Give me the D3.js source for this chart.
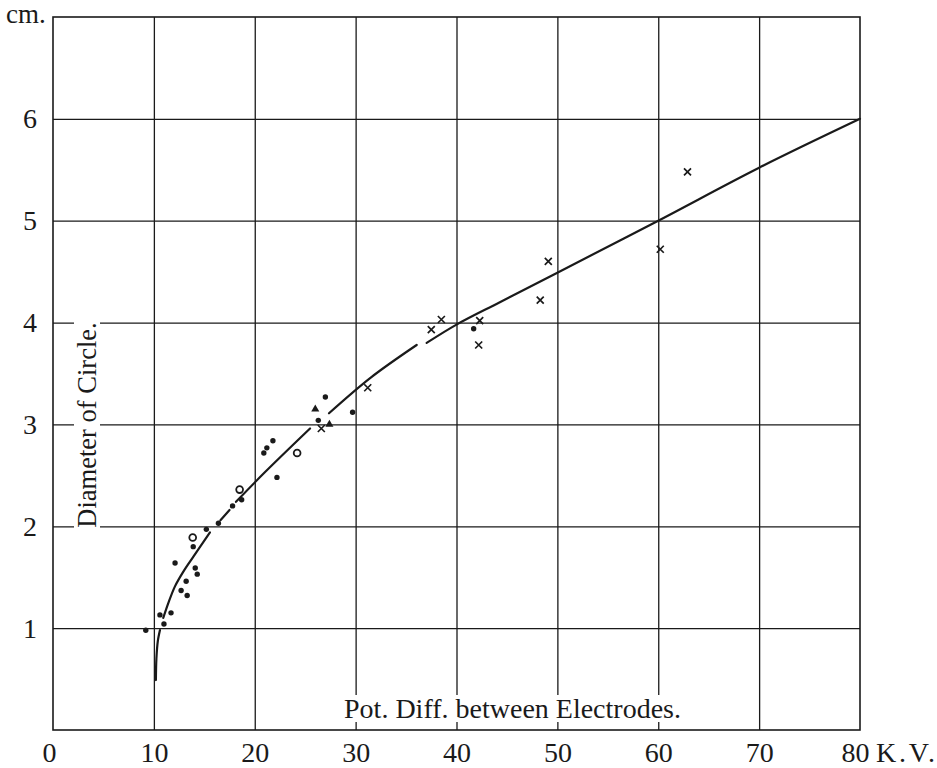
<!DOCTYPE html>
<html>
<head>
<meta charset="utf-8">
<script src="https://cdn.jsdelivr.net/npm/d3@7"></script>
<style>
  html, body { margin: 0; padding: 0; background: #fff; }
  svg { display: block; }
</style>
</head>
<body>
<svg id="chart" width="937" height="768"></svg>
<script>
// ---------- data ----------
const xTicks = [0, 10, 20, 30, 40, 50, 60, 70, 80];
const yTicks = [1, 2, 3, 4, 5, 6];
const xTitle = "Pot. Diff. between Electrodes.";
const yTitle = "Diameter of Circle.";
const yUnit = "cm.";
const xUnit = "K.V.";

// observations: [kV, diameter cm]
const dots = [
  [9.2, 0.98], [10.6, 1.13], [11.0, 1.04], [11.7, 1.15], [12.1, 1.64],
  [12.7, 1.37], [13.3, 1.32], [13.2, 1.46], [13.9, 1.80], [14.1, 1.59],
  [14.3, 1.53], [15.2, 1.97], [16.4, 2.03], [17.8, 2.20], [18.7, 2.26],
  [20.9, 2.72], [21.2, 2.77], [21.8, 2.84], [22.2, 2.48], [26.3, 3.04],
  [27.0, 3.27], [29.7, 3.12], [41.7, 3.94]
];
const rings = [[13.85, 1.89], [18.5, 2.36], [24.2, 2.72]];
const triangles = [[26.0, 3.15], [27.4, 3.00]];
const crosses = [
  [26.6, 2.96], [31.2, 3.36], [37.5, 3.93], [38.5, 4.03], [42.3, 4.02],
  [42.2, 3.78], [48.3, 4.22], [49.1, 4.60], [60.2, 4.72], [62.9, 5.48]
];

// hand-drawn mean curve (null = break in the pen stroke)
const curvePts = [
  [10.2, 0.49], [10.25, 0.70], [10.4, 0.88], [10.6, 0.98], null,
  [10.93, 1.10], [11.43, 1.245], [12.09, 1.41], [12.92, 1.555], [13.9, 1.70], [15.56, 1.94], null,
  [16.6, 2.06], [17.5, 2.16], null,
  [18.14, 2.24], [21, 2.53], [25.48, 2.96], null,
  [27.36, 3.11], [31.5, 3.46], [36.05, 3.78], null,
  [37.04, 3.80], [40, 3.98], [44.3, 4.20], [50, 4.49], [60, 5.00], [70, 5.52], [80, 6.00]
];

// ---------- drawing ----------
const svg = d3.select("#chart");
const x = d3.scaleLinear().domain([0, 80]).range([53, 860]);
const y = d3.scaleLinear().domain([0, 7]).range([730, 17]);
const font = "'Liberation Serif', 'Times New Roman', serif";
const ink = "#1a1a1a";

svg.append("rect").attr("width", 937).attr("height", 768).attr("fill", "#fff");

// vertical grid lines
const gx = svg.append("g").attr("transform", `translate(0,${y(0)})`)
  .call(d3.axisBottom(x).tickValues(xTicks.slice(1, -1)).tickSize(-(y(0) - y(7))).tickFormat(""));
gx.select(".domain").remove();
gx.selectAll("line").attr("stroke", ink).attr("stroke-width", 1.3);

// horizontal grid lines
const gy = svg.append("g").attr("transform", `translate(${x(0)},0)`)
  .call(d3.axisLeft(y).tickValues(yTicks).tickSize(-(x(80) - x(0))).tickFormat(""));
gy.select(".domain").remove();
gy.selectAll("line").attr("stroke", ink).attr("stroke-width", 1.3);

// frame
svg.append("rect")
  .attr("x", x(0)).attr("y", y(7))
  .attr("width", x(80) - x(0)).attr("height", y(0) - y(7))
  .attr("fill", "none").attr("stroke", ink).attr("stroke-width", 1.6);

// x tick labels
const xl = svg.append("g").attr("transform", `translate(0,${y(0)})`)
  .call(d3.axisBottom(x).tickValues(xTicks).tickSize(0).tickPadding(12).tickFormat(d3.format("d")));
xl.select(".domain").remove();
xl.selectAll("text").attr("font-family", font).attr("font-size", 28).attr("fill", ink)
  .attr("dy", "0.71em");
xl.selectAll(".tick").filter(d => d === 0).select("text").attr("dx", -4);
xl.selectAll(".tick").filter(d => d === 80).select("text").attr("dx", -5);

svg.append("text").attr("x", 876).attr("y", 762)
  .attr("font-family", font).attr("font-size", 28).attr("fill", ink)
  .attr("textLength", 59).attr("lengthAdjust", "spacing")
  .text(xUnit);

// y tick labels
const yl = svg.append("g").attr("transform", `translate(${x(0)},0)`)
  .call(d3.axisLeft(y).tickValues(yTicks).tickSize(0).tickPadding(16).tickFormat(d3.format("d")));
yl.select(".domain").remove();
yl.selectAll("text").attr("font-family", font).attr("font-size", 28).attr("fill", ink);

svg.append("text").attr("x", 6).attr("y", 23)
  .attr("font-family", font).attr("font-size", 27).attr("fill", ink)
  .text(yUnit);

// axis titles with white knock-out behind them
function titled(g, txt, size) {
  const t = g.append("text").attr("font-family", font).attr("font-size", size)
    .attr("fill", ink).attr("text-anchor", "middle").text(txt);
  const b = t.node().getBBox();
  g.insert("rect", "text").attr("x", b.x - 3).attr("y", b.y + 2)
    .attr("width", b.width + 6).attr("height", b.height - 4).attr("fill", "#fff");
  return t;
}
const xt = svg.append("g").attr("transform", `translate(${(342 + 683) / 2},718)`);
titled(xt, xTitle, 28);
const yt = svg.append("g").attr("transform", `translate(96,${425}) rotate(-90)`);
titled(yt, yTitle, 26.5);

// curve
const line = d3.line().defined(d => d !== null)
  .x(d => x(d[0])).y(d => y(d[1])).curve(d3.curveCatmullRom.alpha(0.5));
svg.append("path").datum(curvePts).attr("d", line)
  .attr("fill", "none").attr("stroke", ink).attr("stroke-width", 2.2)
  .attr("stroke-linecap", "round");

// markers
svg.append("g").selectAll("circle").data(dots).join("circle")
  .attr("cx", d => x(d[0])).attr("cy", d => y(d[1])).attr("r", 2.7).attr("fill", ink);
svg.append("g").selectAll("circle").data(rings).join("circle")
  .attr("cx", d => x(d[0])).attr("cy", d => y(d[1])).attr("r", 3.4)
  .attr("fill", "#fff").attr("stroke", ink).attr("stroke-width", 1.8);
svg.append("g").selectAll("path").data(triangles).join("path")
  .attr("d", d3.symbol().type(d3.symbolTriangle).size(28))
  .attr("transform", d => `translate(${x(d[0])},${y(d[1])})`).attr("fill", ink);
svg.append("g").selectAll("path").data(crosses).join("path")
  .attr("d", "M-3.5,-3.5L3.5,3.5M3.5,-3.5L-3.5,3.5")
  .attr("transform", d => `translate(${x(d[0])},${y(d[1])})`)
  .attr("fill", "none").attr("stroke", ink).attr("stroke-width", 1.7);
</script>
</body>
</html>
